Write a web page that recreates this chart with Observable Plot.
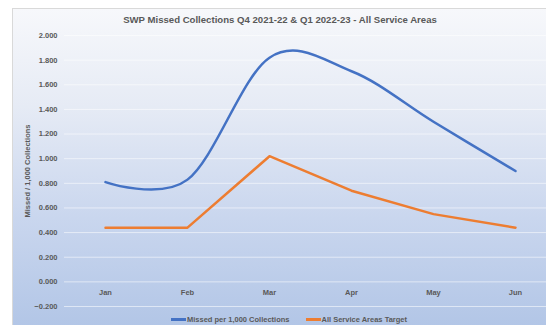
<!DOCTYPE html>
<html>
<head>
<meta charset="utf-8">
<script src="https://cdn.jsdelivr.net/npm/d3@7"></script>
<script src="https://cdn.jsdelivr.net/npm/@observablehq/plot@0.6"></script>
<style>
  html, body { margin: 0; padding: 0; background: #ffffff; width: 546px; height: 325px; overflow: hidden; }
  #card {
    position: absolute; left: 12px; top: 8px; width: 540px; height: 325px;
    border: 1px solid #d9d9d9; box-sizing: border-box;
    background: linear-gradient(to bottom, #f7f8fb 0%, #e6ebf5 30%, #c9d6ee 65%, #b1c5e6 100%);
    font-family: "Liberation Sans", Arial, sans-serif;
  }
  #title {
    position: absolute; left: 0; top: 5px; width: 534px; text-align: center;
    font-size: 9.6px; font-weight: bold; color: #595959;
  }
  #chart { position: absolute; left: 0; top: 19px; }
  #legend {
    position: absolute; left: 0; top: 306px; width: 534px; display: flex; justify-content: center; gap: 16px;
    font-size: 7.5px; font-weight: bold; color: #595959; padding-left: 18px; box-sizing: border-box;
  }
  .item { display: flex; align-items: center; }
  .sw { width: 15px; height: 2.5px; margin-right: 1px; }
</style>
</head>
<body>
<div id="card">
  <div id="title">SWP Missed Collections Q4 2021-22 &amp; Q1 2022-23 - All Service Areas</div>
  <div id="chart"></div>
  <div id="legend"></div>
</div>
<script>
const months = ["Jan", "Feb", "Mar", "Apr", "May", "Jun"];
const missed = [0.81, 0.83, 1.82, 1.71, 1.30, 0.90];
const target = [0.44, 0.44, 1.02, 0.74, 0.55, 0.44];
const yTicks = [-0.2, 0, 0.2, 0.4, 0.6, 0.8, 1.0, 1.2, 1.4, 1.6, 1.8, 2.0];
const seriesNames = ["Missed per 1,000 Collections", "All Service Areas Target"];
const colors = ["#4472C4", "#ED7D31"];

const missedData = months.map((m, i) => ({month: m, value: missed[i]}));
const targetData = months.map((m, i) => ({month: m, value: target[i]}));

const chart = Plot.plot({
  width: 534,
  height: 286,
  marginTop: 7,
  marginBottom: 8,
  marginLeft: 51,
  marginRight: 0,
  style: {background: "transparent", fontFamily: "Liberation Sans, Arial, sans-serif", fontWeight: "bold", color: "#595959"},
  x: {type: "point", domain: months, range: [92, 502], padding: 0},
  y: {domain: [-0.2, 2.0]},
  marks: [
    Plot.ruleY(yTicks, {stroke: "#ffffff", strokeOpacity: 0.55, strokeWidth: 1}),
    Plot.ruleX([0], {x: () => null, frameAnchor: "left", stroke: "#ffffff", strokeOpacity: 0.6}),
    Plot.axisY(yTicks, {
      tickSize: 0, tickPadding: 7, tickFormat: d3.format(".3f"), fontSize: 7.5, fill: "#595959",
      label: "Missed / 1,000 Collections", labelAnchor: "center", labelArrow: "none", labelOffset: 40
    }),
    Plot.axisX({anchor: "bottom", tickSize: 0, dy: -26, fontSize: 7.5, fill: "#595959", label: null}),
    Plot.line(targetData, {x: "month", y: "value", stroke: colors[1], strokeWidth: 2.5}),
    Plot.line(missedData, {x: "month", y: "value", stroke: colors[0], strokeWidth: 2.5, curve: "cardinal"})
  ]
});
document.getElementById("chart").appendChild(chart);

const legend = document.getElementById("legend");
seriesNames.forEach((name, i) => {
  const item = document.createElement("div");
  item.className = "item";
  const sw = document.createElement("span");
  sw.className = "sw";
  sw.style.background = colors[i];
  const t = document.createElement("span");
  t.textContent = name;
  item.appendChild(sw);
  item.appendChild(t);
  legend.appendChild(item);
});
</script>
</body>
</html>
